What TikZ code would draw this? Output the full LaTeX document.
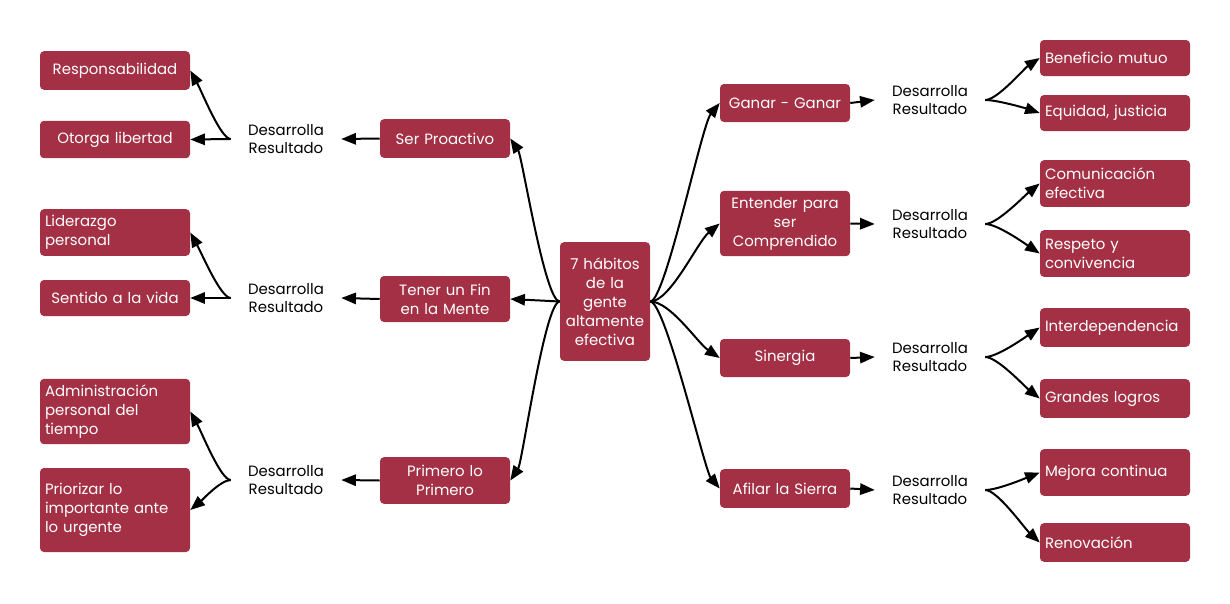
\documentclass[tikz,border=0pt]{standalone}
\usepackage{fontspec}
\setmainfont{Poppins}
\usetikzlibrary{arrows.meta}
\definecolor{boxred}{RGB}{163,48,69}

\begin{document}
\begin{tikzpicture}[x=0.75pt,y=0.75pt,yscale=-1,xscale=1,
  font=\fontsize{11.2}{14.25}\selectfont,
  box/.style={fill=boxred, text=white, rounded corners=3pt, inner xsep=4pt, inner ysep=0pt, text width=89.5pt, align=center},
  leaf/.style={box, inner xsep=3.75pt, text width=105pt, align=left},
  lbl/.style={minimum width=82.5pt, inner sep=0pt, align=center, font=\fontsize{11.2}{13.5}\selectfont},
  link/.style={line width=1.5pt, -{Triangle[length=11pt,width=8.5pt]}}]
\useasboundingbox (0,0) rectangle (1230,603);

%Center
\node [box, text width=61.5pt, inner xsep=3pt, minimum height=89pt] (hub) at (605,301.5) {7 hábitos\\de la\\gente\\altamente\\efectiva};

%Habits, left
\node [box, minimum height=29pt] (proac) at (445,138.5) {Ser Proactivo};
\node [box, minimum height=34.5pt] (fin) at (445,299) {Tener un Fin\\en la Mente};
\node [box, minimum height=35pt] (prim) at (445,480.5) {Primero lo\\Primero};
%Habits, right
\node [box, minimum height=28.5pt] (ganar) at (785,103) {Ganar - Ganar};
\node [box, minimum height=49pt] (entender) at (785,223.5) {Entender para\\ser\\Comprendido};
\node [box, minimum height=28.5pt] (sinergia) at (785,358) {Sinergia};
\node [box, minimum height=29pt] (afilar) at (785,488.5) {Afilar la Sierra};

%Desarrolla / Resultado
\node [lbl] (dl1) at (286,139) {Desarrolla\\Resultado};
\node [lbl] (dl2) at (286,298) {Desarrolla\\Resultado};
\node [lbl] (dl3) at (286,480) {Desarrolla\\Resultado};
\node [lbl] (dr1) at (930,100) {Desarrolla\\Resultado};
\node [lbl] (dr2) at (930,224) {Desarrolla\\Resultado};
\node [lbl] (dr3) at (930,357) {Desarrolla\\Resultado};
\node [lbl] (dr4) at (930,490) {Desarrolla\\Resultado};

%Leaves, left
\node [leaf, align=center, minimum height=29pt] (resp) at (115,70.5) {Responsabilidad};
\node [leaf, align=center, minimum height=28pt] (otorga) at (115,139.5) {Otorga libertad};
\node [leaf, minimum height=35pt] (lider) at (115,232.5) {Liderazgo\\personal};
\node [leaf, align=center, minimum height=27pt] (sentido) at (115,298) {Sentido a la vida};
\node [leaf, minimum height=49pt] (admin) at (115,411.5) {Administración\\personal del\\tiempo};
\node [leaf, minimum height=63pt] (prior) at (115,510) {Priorizar lo\\importante ante\\lo urgente};
%Leaves, right
\node [leaf, minimum height=27pt] (benef) at (1115,58) {Beneficio mutuo};
\node [leaf, minimum height=27pt] (equid) at (1115,113) {Equidad, justicia};
\node [leaf, minimum height=35pt] (comun) at (1115,183.5) {Comunicación\\efectiva};
\node [leaf, minimum height=35pt] (respeto) at (1115,253.5) {Respeto y\\convivencia};
\node [leaf, minimum height=29pt] (inter) at (1115,327.5) {Interdependencia};
\node [leaf, minimum height=29pt] (logros) at (1115,398.5) {Grandes logros};
\node [leaf, minimum height=35pt] (mejora) at (1115,472.5) {Mejora continua};
\node [leaf, minimum height=29pt] (renov) at (1115,542.5) {Renovación};

%Center to habits
\draw [link] (hub.west) .. controls +(-15,0) and +(12,18) .. (proac.east);
\draw [link] (hub.west) -- (fin.east);
\draw [link] (hub.west) .. controls +(-15,0) and +(12,-18) .. (prim.east);
\draw [link] (hub.east) .. controls +(15,0) and +(-18,22) .. (ganar.west);
\draw [link] (hub.east) .. controls +(20,0) and +(-22,18) .. (entender.west);
\draw [link] (hub.east) .. controls +(20,0) and +(-22,-15) .. (sinergia.west);
\draw [link] (hub.east) .. controls +(15,0) and +(-15,-18) .. (afilar.west);

%Habits to Desarrolla
\draw [link] (proac.west) -- (dl1.east);
\draw [link] (fin.west) -- (dl2.east);
\draw [link] (prim.west) -- (dl3.east);
\draw [link] (ganar.east) -- (dr1.west);
\draw [link] (entender.east) -- (dr2.west);
\draw [link] (sinergia.east) -- (dr3.west);
\draw [link] (afilar.east) -- (dr4.west);

%Desarrolla to leaves, left
\draw [link] (dl1.west) .. controls +(-10,0) and +(12,22) .. (resp.east);
\draw [link] (dl1.west) -- (otorga.east);
\draw [link] (dl2.west) .. controls +(-10,0) and +(12,22) .. (lider.east);
\draw [link] (dl2.west) -- (sentido.east);
\draw [link] (dl3.west) .. controls +(-10,0) and +(12,22) .. (admin.east);
\draw [link] (dl3.west) .. controls +(-10,0) and +(12,-10) .. (prior.east);
%Desarrolla to leaves, right
\draw [link] (dr1.east) .. controls +(12,0) and +(-15,10) .. (benef.west);
\draw [link] (dr1.east) .. controls +(12,0) and +(-15,-5) .. (equid.west);
\draw [link] (dr2.east) .. controls +(12,0) and +(-15,12) .. (comun.west);
\draw [link] (dr2.east) .. controls +(12,0) and +(-15,-10) .. (respeto.west);
\draw [link] (dr3.east) .. controls +(12,0) and +(-15,10) .. (inter.west);
\draw [link] (dr3.east) .. controls +(12,0) and +(-15,-12) .. (logros.west);
\draw [link] (dr4.east) .. controls +(12,0) and +(-15,6) .. (mejora.west);
\draw [link] (dr4.east) .. controls +(12,0) and +(-15,-14) .. (renov.west);

\end{tikzpicture}
\end{document}
